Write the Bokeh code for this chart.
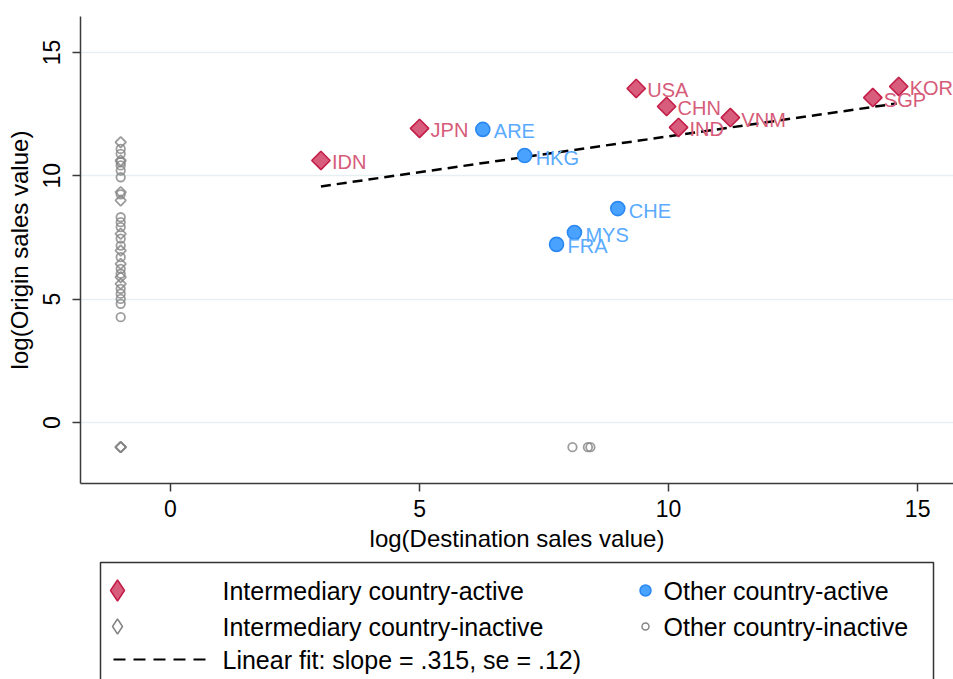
import numpy as np
from bokeh.plotting import figure
from bokeh.models import Range1d, FixedTicker, ColumnDataSource
from bokeh.layouts import column
from bokeh.embed import file_html
from bokeh.resources import INLINE
from bokeh.core.properties import value

# ---- data: log(Destination sales value) vs log(Origin sales value) ----
# Intermediary countries with activity
inter_codes = ["IDN", "JPN", "USA", "CHN", "IND", "VNM", "SGP", "KOR"]
inter_dest = [3.02, 5.00, 9.35, 9.96, 10.20, 11.24, 14.10, 14.62]
inter_orig = [10.62, 11.92, 13.54, 12.81, 11.96, 12.36, 13.17, 13.62]

# Other countries with activity
other_codes = ["ARE", "HKG", "CHE", "MYS", "FRA"]
other_dest = [6.27, 7.11, 8.98, 8.11, 7.75]
other_orig = [11.88, 10.82, 8.67, 7.70, 7.22]

# Inactive countries (missing sales placed at -1)
inter_inactive_dest = [-1, -1, -1, -1, -1, -1, -1, -1, -1, -1, -1, -1]
inter_inactive_orig = [11.36, 10.62, 9.34, 9.00, 7.65, 6.97, 6.43, 5.89, 5.62,
                       -1, -1, -1]
other_inactive_dest = [-1, -1, -1, -1, -1, -1, -1, -1, -1, -1, -1, -1, -1, -1,
                       -1, -1, -1, -1, -1, -1, 8.07, 8.38, 8.43]
other_inactive_orig = [11.09, 10.89, 10.55, 10.42, 10.21, 9.94, 9.25, 8.32,
                       8.12, 7.92, 7.45, 7.17, 6.70, 6.23, 6.03, 5.42, 5.22,
                       5.01, 4.81, 4.27, -1, -1, -1]

# Linear fit over the active countries
fit_dest = [3.02, 14.58]
fit_orig = [9.57, 12.93]

ticks = [0, 5, 10, 15]
legend_labels = ["Intermediary country-active", "Other country-active",
                 "Intermediary country-inactive", "Other country-inactive",
                 "Linear fit: slope = .315, se = .12)"]

# ---- styling ----
FONT = "Liberation Sans"
RED_FILL, RED_LINE, RED_TEXT = "#d85c7b", "#c41e48", "#d65c7a"
BLUE_FILL, BLUE_LINE, BLUE_TEXT = "#4aa2ff", "#2a88f2", "#5aabff"
GRAY = "#858585"
AXIS = "#3a3a3a"

p = figure(width=953, height=560, output_backend="svg", toolbar_location=None,
           x_range=Range1d(-1.807, 15.72), y_range=Range1d(-2.473, 16.457),
           min_border_left=80, min_border_right=0, min_border_top=16,
           min_border_bottom=77)
p.outline_line_color = None
p.background_fill_color = "white"
p.xgrid.grid_line_color = None
p.ygrid.grid_line_color = "#e6eff1"
p.ygrid.grid_line_width = 1.5

for ax in (p.xaxis[0], p.yaxis[0]):
    ax.ticker = FixedTicker(ticks=ticks)
    ax.minor_tick_line_color = None
    ax.axis_line_color = AXIS
    ax.axis_line_width = 1.5
    ax.major_tick_line_color = AXIS
    ax.major_tick_line_width = 1.5
    ax.major_tick_in = 0
    ax.major_tick_out = 8
    ax.major_label_text_font = FONT
    ax.major_label_text_font_size = "23px"
    ax.major_label_text_color = "black"
    ax.axis_label_text_font = FONT
    ax.axis_label_text_font_size = "24px"
    ax.axis_label_text_font_style = "normal"
    ax.axis_label_text_color = "black"

p.xaxis.axis_label = "log(Destination sales value)"
p.yaxis.axis_label = "log(Origin sales value)"
p.xaxis.major_label_standoff = 8
p.xaxis.axis_label_standoff = 5
p.yaxis.major_label_standoff = 12
p.yaxis.axis_label_standoff = 8
p.yaxis.major_label_orientation = "vertical"

# inactive markers
p.scatter(other_inactive_dest, other_inactive_orig, marker="circle", size=8.5,
          fill_color=None, line_color=GRAY, line_width=1.8, line_alpha=0.8)
p.scatter(inter_inactive_dest, inter_inactive_orig, marker="square",
          angle=np.pi / 4, size=7.5, fill_color=None, line_color=GRAY,
          line_width=1.8, line_alpha=0.8)

# fit line
p.line(fit_dest, fit_orig, line_color="black", line_width=2.5, line_dash="10 6")

# active markers and their country labels
src_i = ColumnDataSource(dict(x=inter_dest, y=inter_orig, t=inter_codes))
src_o = ColumnDataSource(dict(x=other_dest, y=other_orig, t=other_codes))
p.scatter("x", "y", source=src_i, marker="square", angle=np.pi / 4, size=13,
          fill_color=RED_FILL, line_color=RED_LINE, line_width=1.6)
p.scatter("x", "y", source=src_o, marker="circle", size=14,
          fill_color=BLUE_FILL, line_color=BLUE_LINE, line_width=1.6)
for src, col in ((src_i, RED_TEXT), (src_o, BLUE_TEXT)):
    p.text("x", "y", text="t", source=src, x_offset=11, y_offset=2,
           text_baseline="middle", text_align="left", text_color=col,
           text_font=value(FONT), text_font_size="20px")

# ---- legend panel (coordinates are pixels of the page, offset by its top) ----
leg = figure(width=953, height=119, output_backend="svg", toolbar_location=None,
             x_range=Range1d(80, 953), y_range=Range1d(119, 0),
             x_axis_type=None, y_axis_type=None,
             min_border_left=80, min_border_right=0, min_border_top=0,
             min_border_bottom=0)
leg.outline_line_color = None
leg.grid.visible = False
leg.quad(left=[100], right=[933], top=[2], bottom=[140], fill_color=None,
         line_color="#333333", line_width=1.5)

row_y = [30, 30, 66, 66, 99]
text_x = [222, 663, 222, 663, 222]
leg.scatter([117], [30], marker="diamond", size=21, fill_color=RED_FILL,
            line_color=RED_LINE, line_width=1.5)
leg.scatter([645], [30], marker="circle", size=11, fill_color=BLUE_FILL,
            line_color=BLUE_LINE, line_width=1.5)
leg.scatter([117], [66], marker="diamond", size=15, fill_color=None,
            line_color=GRAY, line_width=1.5)
leg.scatter([645], [66], marker="circle", size=7, fill_color=None,
            line_color=GRAY, line_width=1.5)
leg.line([113, 207], [99, 99], line_color="black", line_width=2.2,
         line_dash="12 8")
leg.text(text_x, row_y, text=legend_labels, text_baseline="middle",
         text_align="left", text_color="black", text_font=value(FONT),
         text_font_size="25px")

layout = column(p, leg, spacing=0)
open("out.html", "w").write(file_html(layout, INLINE))
